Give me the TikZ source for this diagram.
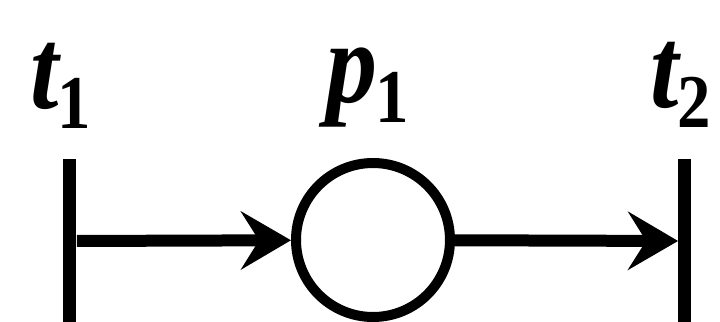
\documentclass[tikz,border=0pt]{standalone}
\usepackage{fontspec}
\setmainfont{Liberation Serif}
\usetikzlibrary{arrows.meta}
\newcommand{\lbl}[2]{\scalebox{0.88}[1]{{\fontsize{58}{64}\selectfont\bfseries\itshape #1}\kern-1pt\raisebox{-10pt}{\fontsize{38}{42}\selectfont\bfseries\upshape #2}}}
\tikzset{
  trans/.style={draw=none,fill=black,minimum width=6.5pt,minimum height=82pt,inner sep=0pt},
  place/.style={circle,draw=black,line width=5pt,minimum size=77pt,inner sep=0pt},
  conn/.style={line width=6pt,-{Stealth[length=25pt,width=29pt,inset=9pt]}},
  lab/.style={inner sep=0pt,anchor=center}
}
\begin{document}
\begin{tikzpicture}[x=0.5pt,y=-0.5pt]
\useasboundingbox (0,0) rectangle (720,322);
\node[trans] (t1bar) at (70,241) {};
\node[place] (p1) at (373,240) {};
\node[trans] (t2bar) at (685,241) {};
\draw[conn] (t1bar) -- (p1);
\draw[conn] (p1) -- (t2bar);
\node[lab] (t1) at (61,86) {\lbl{t}{1}};
\node[lab] (pl1) at (368,88) {\lbl{p}{1}};
\node[lab] (t2) at (681,85) {\lbl{t}{2}};
\end{tikzpicture}
\end{document}
